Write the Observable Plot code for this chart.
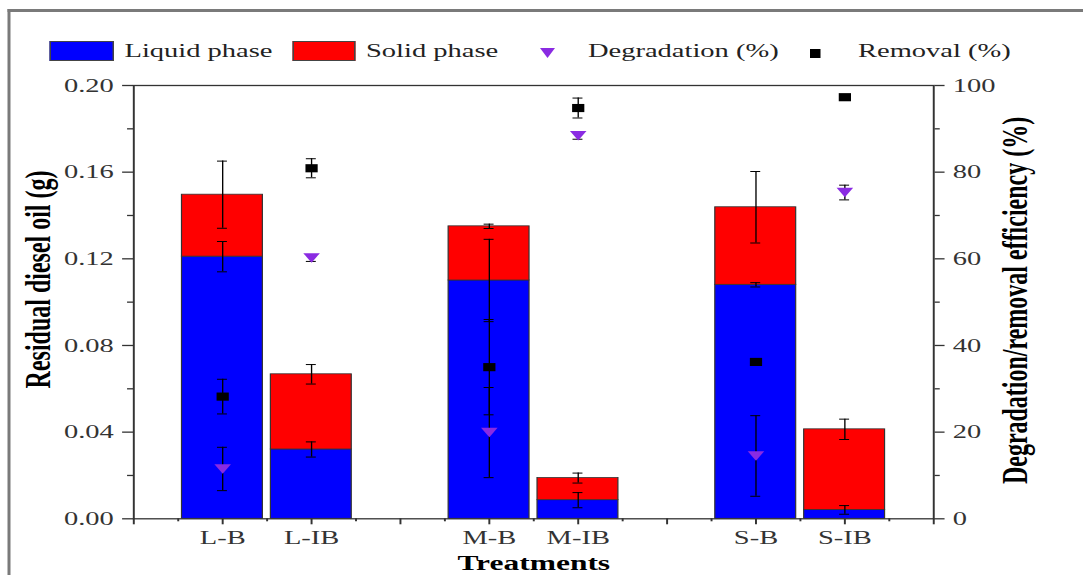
<!DOCTYPE html>
<html>
<head>
<meta charset="utf-8">
<script src="https://cdn.jsdelivr.net/npm/d3@7"></script>
<script src="https://cdn.jsdelivr.net/npm/@observablehq/plot@0.6"></script>
<style>
  html, body { margin: 0; padding: 0; background: #fff; overflow: hidden; }
  #wrap { position: absolute; left: 0; top: 0; width: 722px; height: 575px;
          transform: scaleX(1.5); transform-origin: 0 0; font-family: "Liberation Serif", serif; }
  #border { position: absolute; left: 5.3px; top: 9px; width: 800px; height: 700px;
            border-left: 2px solid #7a7a7a; border-top: 3px solid #7a7a7a; }
  #chart { position: absolute; left: 0; top: 0; }
  .lg { position: absolute; font-size: 19px; color: #222; line-height: 22px; top: 40px; white-space: nowrap; }
  .sw { position: absolute; top: 40.7px; height: 20px; box-sizing: border-box; border: 1px solid #444; }
  .tri { position: absolute; width: 0; height: 0; border-left: 5px solid transparent;
         border-right: 5px solid transparent; border-top: 10px solid #8a2be2; }
  .sq { position: absolute; width: 6.5px; height: 9px; background: #000; }
</style>
</head>
<body>
<div id="wrap">
  <div id="border"></div>
  <div id="chart"></div>
  <div id="legend"></div>
</div>
<script>
// ---- data ----
const categories   = ["L-B", "L-IB", "M-B", "M-IB", "S-B", "S-IB"];
const positions    = [1, 2, 4, 5, 7, 8];
const liquidPhase  = [0.121, 0.032, 0.110, 0.0086, 0.108, 0.0041];   // g
const solidPhase   = [0.0286, 0.0347, 0.025, 0.0102, 0.0358, 0.0372]; // g
const liquidErr    = [0.007, 0.0035, 0.019, 0.0035, 0.001, 0.002];
const totalErr     = [0.0155, 0.0045, 0.001, 0.0023, 0.0165, 0.0047];
const degradation  = [11.5, 60.2, 19.9, 88.4, 14.5, 75.3];  // %
const degradationErr = [5.0, 0.8, 10.4, 0.8, 9.3, 1.7];
const removal      = [28.2, 80.9, 35.0, 94.8, 36.2, 97.3];  // %
const removalErr   = [4.0, 2.2, 11.0, 2.3, 0.6, 0.6];
const leftTicks    = [0, 0.04, 0.08, 0.12, 0.16, 0.20];
const leftMinor    = [0.02, 0.06, 0.10, 0.14, 0.18];
const rightTicks   = [0, 20, 40, 60, 80, 100];
const rightMinor   = [10, 30, 50, 70, 90];
const legendLabels = ["Liquid phase", "Solid phase", "Degradation (%)", "Removal (%)"];
const phases = ["Liquid phase", "Solid phase"];

const pctToY = 0.2 / 100;  // right axis (0–100 %) mapped onto left axis (0–0.2 g)
const halfBar = 0.455;
const cap = 0.056;

const rows = categories.map((c, i) => ({
  c, pos: positions[i],
  liq: liquidPhase[i], tot: liquidPhase[i] + solidPhase[i],
  liqErr: liquidErr[i], totErr: totalErr[i],
  deg: degradation[i], degErr: degradationErr[i],
  rem: removal[i], remErr: removalErr[i]
}));
const bars = rows.flatMap(d => [
  {pos: d.pos, phase: phases[0], y1: 0, y2: d.liq},
  {pos: d.pos, phase: phases[1], y1: d.liq, y2: d.tot}
]);
const errs = rows.flatMap(d => [
  {pos: d.pos, lo: d.liq - d.liqErr, hi: d.liq + d.liqErr},
  {pos: d.pos, lo: d.tot - d.totErr, hi: d.tot + d.totErr},
  {pos: d.pos, lo: (d.deg - d.degErr) * pctToY, hi: (d.deg + d.degErr) * pctToY},
  {pos: d.pos, lo: (d.rem - d.remErr) * pctToY, hi: (d.rem + d.remErr) * pctToY}
]);
const capsData = errs.flatMap(e => [{pos: e.pos, y: e.lo}, {pos: e.pos, y: e.hi}]);

const downTriangle = {
  draw(ctx, size) {
    const a = Math.sqrt(4 * size / Math.sqrt(3));
    const h = a * Math.sqrt(3) / 2;
    ctx.moveTo(-a / 2, -h / 2);
    ctx.lineTo(a / 2, -h / 2);
    ctx.lineTo(0, h / 2);
    ctx.closePath();
  }
};

const labelAt = new Map(positions.map((p, i) => [p, categories[i]]));

const chart = Plot.plot({
  width: 722, height: 575,
  marginLeft: 88.7, marginRight: 100, marginTop: 85, marginBottom: 56.7,
  x: {domain: [0, 9]},
  y: {domain: [0, 0.2]},
  color: {domain: phases, range: ["#0000ff", "#ff0000"]},
  style: {fontFamily: "Liberation Serif", fontSize: "19px", color: "#333", background: "transparent", overflow: "visible"},
  marks: [
    Plot.rectY(bars, {x1: d => d.pos - halfBar, x2: d => d.pos + halfBar, y1: "y1", y2: "y2",
                      fill: "phase", stroke: "#333", strokeWidth: 0.8}),
    Plot.ruleX(errs, {x: "pos", y1: "lo", y2: "hi", stroke: "#000", strokeWidth: 0.9}),
    Plot.ruleY(capsData, {y: "y", x1: d => d.pos - cap, x2: d => d.pos + cap, stroke: "#000", strokeWidth: 1}),
    Plot.dot(rows, {x: "pos", y: d => d.deg * pctToY, symbol: downTriangle, r: 4.1, fill: "#8a2be2", stroke: "none"}),
    Plot.dot(rows, {x: "pos", y: d => d.rem * pctToY, symbol: "square", r: 4.6, fill: "#000", stroke: "none"}),
    Plot.frame({stroke: "#333", strokeWidth: 1.3}),
    Plot.axisY({anchor: "left", ticks: leftTicks, tickFormat: d3.format(".2f"), tickSize: 7.3, tickPadding: 6,
                fontSize: 19, label: null, strokeWidth: 1.3}),
    Plot.axisY({anchor: "left", ticks: leftMinor, tickFormat: () => "", tickSize: 4, label: null, strokeWidth: 1.3}),
    Plot.axisY({anchor: "right", ticks: rightTicks.map(v => v * pctToY), tickFormat: d => String(Math.round(d / pctToY)),
                tickSize: 6.7, tickPadding: 6, fontSize: 19, label: null, strokeWidth: 1.3}),
    Plot.axisY({anchor: "right", ticks: rightMinor.map(v => v * pctToY), tickFormat: () => "", tickSize: 3.5, label: null, strokeWidth: 1.3}),
    Plot.axisX({ticks: d3.range(0, 10), tickFormat: d => labelAt.get(d) ?? "", tickSize: 6, tickPadding: 6,
                fontSize: 19, label: null, strokeWidth: 1.3}),
    Plot.axisX({ticks: d3.range(0.5, 9, 1), tickFormat: () => "", tickSize: 3, label: null, strokeWidth: 1.3}),
    Plot.text(["Residual diesel oil (g)"], {frameAnchor: "left", dx: -63.4, dy: -22.7, rotate: -90,
                fontSize: 24, fontWeight: "bold", fill: "#000", textAnchor: "middle", lineAnchor: "middle"}),
    Plot.text(["Degradation/removal efficiency (%)"], {frameAnchor: "right", dx: 54.7, dy: -1.7, rotate: -90,
                fontSize: 24, fontWeight: "bold", fill: "#000", textAnchor: "middle", lineAnchor: "middle"}),
    Plot.text(["Treatments"], {frameAnchor: "bottom", dy: 44, fontSize: 21, fontWeight: "bold", fill: "#000",
                textAnchor: "middle", lineAnchor: "middle"})
  ]
});
document.getElementById("chart").appendChild(chart);

// ---- legend ----
const lg = document.getElementById("legend");
function add(cls, style, text) {
  const e = document.createElement("div");
  e.className = cls;
  Object.assign(e.style, style);
  if (text) e.textContent = text;
  lg.appendChild(e);
}
add("sw", {left: "33.3px", width: "43px", background: "#0000ff"});
add("lg", {left: "83px"}, legendLabels[0]);
add("sw", {left: "195px", width: "42px", background: "#ff0000"});
add("lg", {left: "244px"}, legendLabels[1]);
add("tri", {left: "359.5px", top: "48px"});
add("lg", {left: "392px"}, legendLabels[2]);
add("sq", {left: "540px", top: "48.5px"});
add("lg", {left: "572px"}, legendLabels[3]);
</script>
</body>
</html>
